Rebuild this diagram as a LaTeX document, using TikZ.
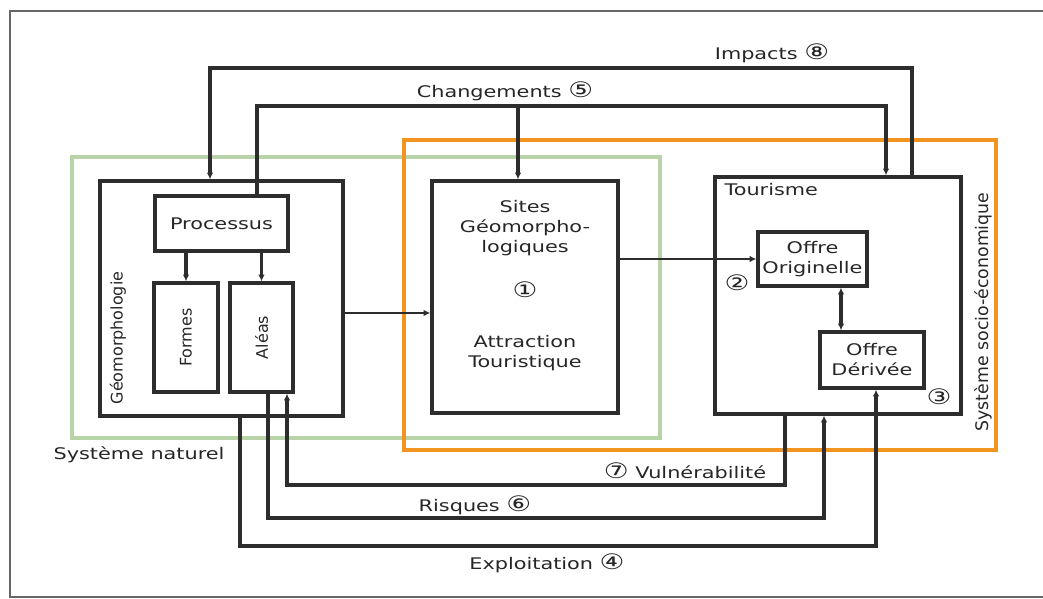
\documentclass[tikz,border=0pt]{standalone}
\usepackage{fontspec}
\setmainfont{DejaVu Sans}[FakeStretch=1.3]
\newfontfamily\upfont{DejaVu Sans}
\usetikzlibrary{arrows.meta,fit}

\definecolor{natgreen}{RGB}{183,211,167}
\definecolor{socorange}{RGB}{242,148,32}
\definecolor{lineg}{RGB}{45,45,45}

\newcommand{\circnum}[1]{{\fontsize{16}{16}\selectfont #1}}

\tikzset{
  box/.style={draw=lineg, line width=2.6pt, inner sep=0pt},
  arr/.style={draw=lineg, line width=2.4pt, -{Latex[length=5pt,width=5pt]}},
  thinarr/.style={arr, line width=1.5pt},
  lbl/.style={font=\fontsize{12}{15}\selectfont, text=black!85, align=center, inner sep=1pt},
  vlbl/.style={font=\upfont\fontsize{12}{14}\selectfont, text=black!85, rotate=90, inner sep=1pt},
}

\begin{document}
\begin{tikzpicture}[x=0.75pt, y=-0.75pt]
    \useasboundingbox (0,0) rectangle (1043,599);
    % outer frame
    \draw[black!60, line width=2pt] (1043,11) -- (10,11) -- (10,597) -- (1043,597);

    % the two systems
    \node[draw=natgreen, line width=2.4pt, inner sep=0pt, fit={(72,157) (660,438)}] (nat) {};
    \node[draw=socorange, line width=2.4pt, inner sep=0pt, fit={(404,140) (996,450)}] (soc) {};
    \node[lbl, anchor=west] (natL) at (52,455) {Système naturel};
    \node[vlbl, font=\upfont\fontsize{13}{14}\selectfont] (socL) at (983,312) {Système socio-économique};

    % natural side
    \node[box, fit={(100,181) (343,416)}] (geo) {};
    \node[vlbl] (geoL) at (118,338) {Géomorphologie};
    \node[box, fit={(155,196) (288,251)}] (proc) {};
    \node[lbl] (procL) at (proc) {Processus};
    \node[box, fit={(154,283) (218,392)}] (formes) {};
    \node[vlbl] (formesL) at (formes) {Formes};
    \node[box, fit={(230,283) (293,392)}] (aleas) {};
    \node[vlbl] (aleasL) at (aleas) {Aléas};

    % sites
    \node[box, fit={(432,181) (618,413)}] (sites) {};
    \node[lbl] (sitesT) at (525,228) {Sites\\Géomorpho-\\logiques};
    \node[lbl] (n1) at (525,290) {\circnum{①}};
    \node[lbl] (sitesB) at (525,353) {Attraction\\Touristique};

    % tourism
    \node[box, fit={(715,177) (961,414)}] (tour) {};
    \node[lbl, anchor=west] (tourL) at (723,190) {Tourisme};
    \node[box, fit={(758,232) (867,286)}] (orig) {};
    \node[lbl] (origL) at (orig) {Offre\\Originelle};
    \node[box, fit={(820,332) (924,388)}] (deriv) {};
    \node[lbl] (derivL) at (deriv) {Offre\\Dérivée};
    \node[lbl] (n2) at (737,283) {\circnum{②}};
    \node[lbl] (n3) at (939,397) {\circnum{③}};

    % impacts
    \coordinate (i1) at (912,68);
    \coordinate (i2) at (210,68);
    \draw[arr] (tour.north -| i1) -- (i1) -- (i2) -- (geo.north -| i2);
    \node[lbl] (impL) at (772,53) {Impacts \circnum{⑧}};

    % changements
    \coordinate (c1) at (257,106);
    \coordinate (c2) at (886,106);
    \coordinate (c3) at (518,106);
    \draw[arr] (proc.north -| c1) -- (c1) -- (c2) -- (tour.north -| c2);
    \draw[arr] (c3) -- (sites.north -| c3);
    \node[lbl] (chL) at (505,91) {Changements \circnum{⑤}};

    % inside links
    \draw[arr] (proc.south -| formes.north) -- (formes.north);
    \draw[arr] (proc.south -| aleas.north) -- (aleas.north);
    \coordinate (g1) at (343,313);
    \draw[thinarr] (geo.east |- g1) -- (sites.west |- g1);
    \draw[thinarr] (sites.east |- orig.west) -- (orig.west);
    \coordinate (o1) at (841,300);
    \draw[arr, {Latex[length=5pt,width=5pt]}-{Latex[length=5pt,width=5pt]}] (orig.south -| o1) -- (deriv.north -| o1);

    % vulnerabilite
    \coordinate (v1) at (785,485);
    \coordinate (v2) at (287,485);
    \draw[arr] (tour.south -| v1) -- (v1) -- (v2) -- (aleas.south -| v2);
    \node[lbl] (vulL) at (685,471) {\circnum{⑦} Vulnérabilité};

    % risques
    \coordinate (r1) at (268,518);
    \coordinate (r2) at (824,518);
    \draw[arr] (aleas.south -| r1) -- (r1) -- (r2) -- (tour.south -| r2);
    \node[lbl] (risL) at (475,505) {Risques \circnum{⑥}};

    % exploitation
    \coordinate (e1) at (240,546);
    \coordinate (e2) at (876,546);
    \draw[arr] (geo.south -| e1) -- (e1) -- (e2) -- (deriv.south -| e2);
    \node[lbl] (expL) at (547,563) {Exploitation \circnum{④}};
\end{tikzpicture}
\end{document}
